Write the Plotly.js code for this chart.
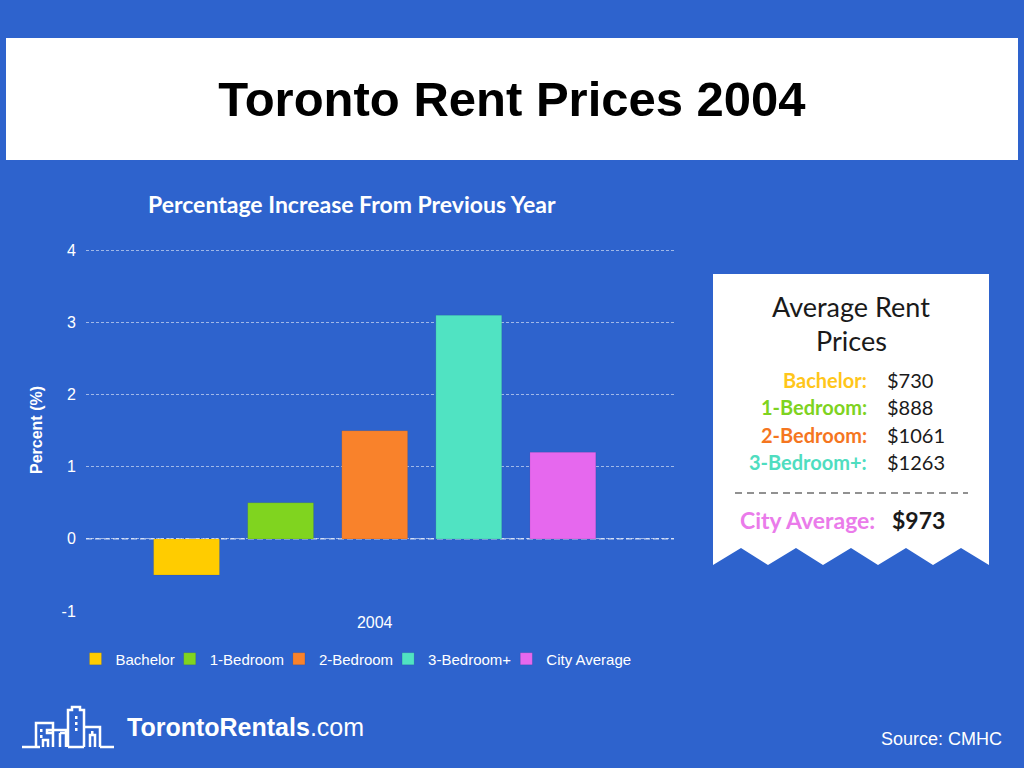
<!DOCTYPE html>
<html>
<head>
<meta charset="utf-8">
<script src="https://cdn.plot.ly/plotly-3.0.1.min.js"></script>
<style>
  html, body { margin: 0; padding: 0; background: #2E63CD; }
  #chart { width: 1024px; height: 768px; }
</style>
</head>
<body>
<div id="chart"></div>
<script>
// ---- data ----
var categories = ['2004'];
var seriesNames = ['Bachelor', '1-Bedroom', '2-Bedroom', '3-Bedroom+', 'City Average'];
var seriesValues = [-0.5, 0.5, 1.5, 3.1, 1.2];
var seriesColors = ['#FFCC00', '#80D41F', '#F9822B', '#50E3C2', '#E668EE'];
var yTickVals = [-1, 0, 1, 2, 3, 4];
var yTickText = ['-1', '0', '1', '2', '3', '4'];

var rentLabels = ['Bachelor:', '1-Bedroom:', '2-Bedroom:', '3-Bedroom+:'];
var rentValues = ['$730', '$888', '$1061', '$1263'];
var rentLabelColors = ['#FFC61A', '#7ED321', '#F5761F', '#4FDDC0'];
var cityLabel = 'City Average:';
var cityValue = '$973';
var cityColor = '#EA7BEA';

// ---- layout helpers (pixel -> paper) ----
var PL = 86, PR = 674, PT = 249, PB = 611;
function X(px) { return (px - PL) / (PR - PL); }
function Y(py) { return (PB - py) / (PB - PT); }

var traces = seriesNames.map(function (name, i) {
  return {
    type: 'bar',
    name: name,
    x: categories,
    y: [seriesValues[i]],
    marker: { color: seriesColors[i], line: { color: 'rgba(0,0,0,0.08)', width: 1 } },
    hoverinfo: 'name+y'
  };
});

var shapes = [];
// title box
shapes.push({ type: 'rect', xref: 'paper', yref: 'paper', x0: X(6), x1: X(1018), y0: Y(38), y1: Y(160),
  fillcolor: '#FFFFFF', line: { width: 0 }, layer: 'below' });
// zero line
shapes.push({ type: 'line', xref: 'paper', yref: 'y', x0: 0, x1: 1, y0: 0, y1: 0,
  line: { color: 'rgba(255,255,255,0.75)', width: 1.2, dash: '6px,3px' }, layer: 'below' });
// receipt panel
var rp = [[713,274],[989,274],[989,565],[961,548],[933,565],[906,548],[878,565],[851,548],[823,565],[796,548],[768,565],[741,548],[713,565]];
var path = rp.map(function (p, i) { return (i === 0 ? 'M' : 'L') + X(p[0]).toFixed(5) + ',' + Y(p[1]).toFixed(5); }).join(' ') + ' Z';
shapes.push({ type: 'path', xref: 'paper', yref: 'paper', path: path, fillcolor: '#FFFFFF', line: { width: 0 } });
// dashed separator in panel
shapes.push({ type: 'line', xref: 'paper', yref: 'paper', x0: X(735), x1: X(968), y0: Y(493), y1: Y(493),
  line: { color: '#6E6E6E', width: 1.3, dash: '7px,5px' } });
// logo (city outline)
var logoLines = [
  [[22,747],[40,747]],
  [[36,747],[36,723],[53,723],[53,747]],
  [[43,747],[43,740],[48,740],[48,747]],
  [[53,733],[47,733],[47,730],[66,730],[66,733],[60,733]],
  [[60,747],[60,733]],
  [[66,747],[66,733]],
  [[68,747],[68,710],[72,710],[72,707],[80,707],[80,710],[84,710],[84,747]],
  [[68,747],[84,747]],
  [[84,727],[100,727],[100,747]],
  [[90,747],[90,735],[95,735],[95,747]],
  [[100,747],[114,747]]
];
logoLines.forEach(function (pts) {
  var d = pts.map(function (p, i) { return (i === 0 ? 'M' : 'L') + X(p[0]).toFixed(5) + ',' + Y(p[1]).toFixed(5); }).join(' ');
  shapes.push({ type: 'path', xref: 'paper', yref: 'paper', path: d, line: { color: '#FFFFFF', width: 2.5 } });
});
// windows
[[40,729],[40,735],[75,716],[75,722],[75,728],[91,731]].forEach(function (w) {
  shapes.push({ type: 'rect', xref: 'paper', yref: 'paper', x0: X(w[0]), x1: X(w[0] + 2.5), y0: Y(w[1]), y1: Y(w[1] + 3),
    fillcolor: '#FFFFFF', line: { width: 0 } });
});

var annotations = [];
annotations.push({ xref: 'paper', yref: 'paper', x: X(352), y: Y(204), xanchor: 'center', yanchor: 'middle',
  text: '<b>Percentage Increase From Previous Year</b>', showarrow: false,
  font: { family: 'Lato, "Open Sans", sans-serif', size: 23, color: '#FFFFFF' } });
annotations.push({ xref: 'paper', yref: 'paper', x: X(851), y: Y(306), xanchor: 'center', yanchor: 'middle',
  text: 'Average Rent', showarrow: false,
  font: { family: 'Lato, sans-serif', size: 27, color: '#1A1A1A' } });
annotations.push({ xref: 'paper', yref: 'paper', x: X(851), y: Y(340), xanchor: 'center', yanchor: 'middle',
  text: 'Prices', showarrow: false,
  font: { family: 'Lato, sans-serif', size: 27, color: '#1A1A1A' } });
var rowY = [380, 407, 435, 462];
rentLabels.forEach(function (lab, i) {
  annotations.push({ xref: 'paper', yref: 'paper', x: X(869), y: Y(rowY[i]), xanchor: 'right', yanchor: 'middle',
    text: '<b>' + lab + '</b>', showarrow: false,
    font: { family: 'Lato, sans-serif', size: 20, color: rentLabelColors[i] } });
  annotations.push({ xref: 'paper', yref: 'paper', x: X(885), y: Y(rowY[i]), xanchor: 'left', yanchor: 'middle',
    text: rentValues[i], showarrow: false,
    font: { family: 'Lato, sans-serif', size: 20, color: '#1A1A1A' } });
});
annotations.push({ xref: 'paper', yref: 'paper', x: X(877), y: Y(520), xanchor: 'right', yanchor: 'middle',
  text: '<b>' + cityLabel + '</b>', showarrow: false,
  font: { family: 'Lato, sans-serif', size: 23, color: cityColor } });
annotations.push({ xref: 'paper', yref: 'paper', x: X(890), y: Y(520), xanchor: 'left', yanchor: 'middle',
  text: '<b>' + cityValue + '</b>', showarrow: false,
  font: { family: 'Lato, sans-serif', size: 23, color: '#1A1A1A' } });
annotations.push({ xref: 'paper', yref: 'paper', x: X(125), y: Y(727), xanchor: 'left', yanchor: 'middle',
  text: '<b>TorontoRentals</b>.com', showarrow: false,
  font: { family: '"Liberation Sans", Arial, sans-serif', size: 25, color: '#FFFFFF' } });
annotations.push({ xref: 'paper', yref: 'paper', x: X(1004), y: Y(739), xanchor: 'right', yanchor: 'middle',
  text: 'Source: CMHC', showarrow: false,
  font: { family: '"Liberation Sans", Arial, sans-serif', size: 18, color: '#FFFFFF' } });

var layout = {
  width: 1024, height: 768,
  paper_bgcolor: '#2E63CD', plot_bgcolor: 'rgba(0,0,0,0)',
  margin: { l: PL, r: 1024 - PR, t: PT, b: 768 - PB, pad: 0 },
  font: { family: '"Liberation Sans", Arial, sans-serif', color: '#FFFFFF', size: 15 },
  title: { text: '<b>Toronto Rent Prices 2004</b>', x: 0.5, xref: 'container', xanchor: 'center',
    y: 1 - 99 / 768, yref: 'container', yanchor: 'middle',
    font: { family: '"Liberation Sans", Arial, sans-serif', size: 49, color: '#000000' } },
  barmode: 'group', bargap: 0.2, bargroupgap: 0.3,
  showlegend: true,
  legend: { orientation: 'h', xref: 'container', x: 361 / 1024, xanchor: 'center',
    yref: 'container', y: 1 - 659 / 768, yanchor: 'middle', indentation: -10,
    font: { size: 15, color: '#FFFFFF' }, bgcolor: 'rgba(0,0,0,0)', itemclick: false, itemdoubleclick: false },
  xaxis: { type: 'category', range: [-0.491, 0.509], showgrid: false, zeroline: false, showline: false,
    ticks: '', tickfont: { size: 16, color: '#FFFFFF' }, fixedrange: true },
  yaxis: { range: [-1, 4.02], tickvals: yTickVals, ticktext: yTickText, ticks: 'outside', ticklen: 6, tickcolor: 'rgba(0,0,0,0)',
    showgrid: true, gridcolor: 'rgba(255,255,255,0.55)', griddash: '3px,2px', gridwidth: 1,
    zeroline: false, showline: false, tickfont: { size: 16, color: '#FFFFFF' }, fixedrange: true,
    title: { text: '<b>Percent (%)</b>', standoff: 14, font: { size: 16, color: '#FFFFFF' } } },
  shapes: shapes,
  annotations: annotations
};

Plotly.newPlot('chart', traces, layout, { displayModeBar: false });
</script>
</body>
</html>
